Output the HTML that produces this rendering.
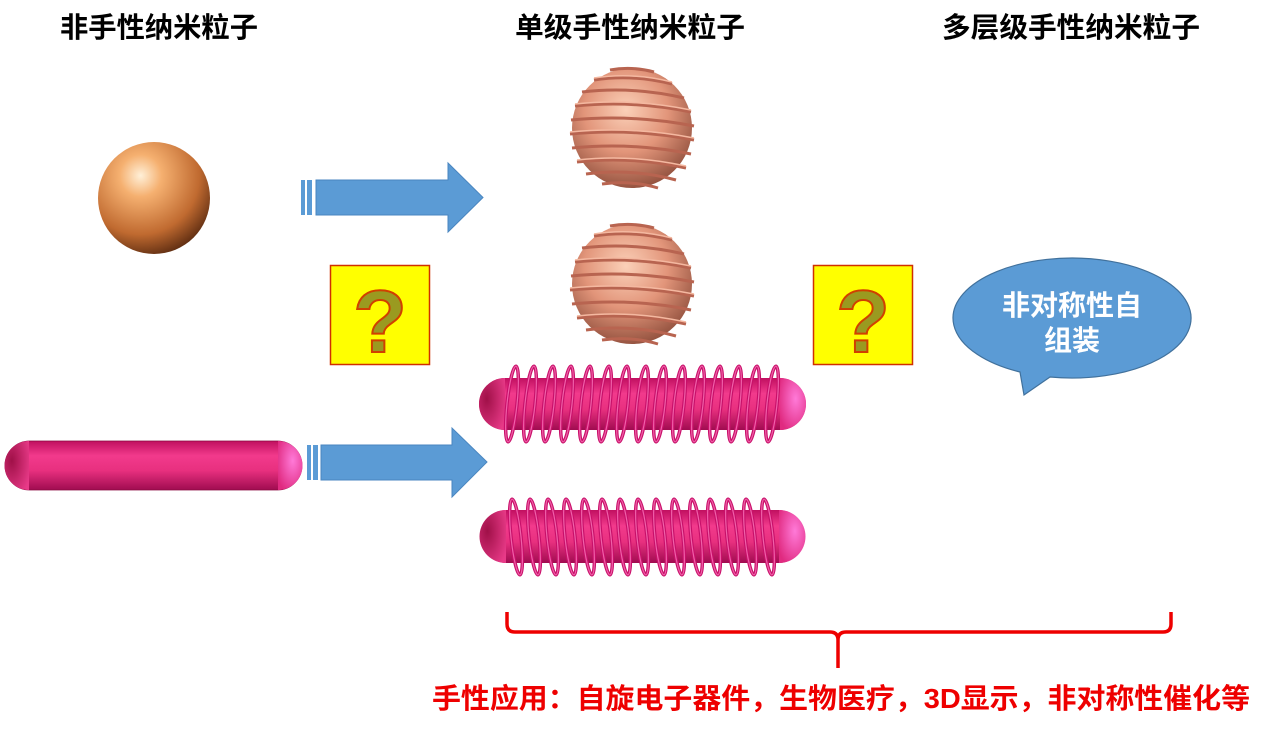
<!DOCTYPE html>
<html><head><meta charset="utf-8"><style>
html,body{margin:0;padding:0;background:#fff;}
svg{display:block;}
text{font-family:"Liberation Sans","Noto Sans CJK SC",sans-serif;font-weight:bold;}
</style></head><body>
<svg width="1269" height="732" viewBox="0 0 1269 732" xmlns="http://www.w3.org/2000/svg">
<defs>
<radialGradient id="gold" cx="0.38" cy="0.3" r="0.75">
<stop offset="0" stop-color="#fff0d8"/><stop offset="0.25" stop-color="#f5b070"/><stop offset="0.7" stop-color="#c06a30"/><stop offset="1" stop-color="#5a2a10"/></radialGradient>
<radialGradient id="salmon" cx="0.45" cy="0.35" r="0.7">
<stop offset="0" stop-color="#fbd0b8"/><stop offset="0.5" stop-color="#e2957a"/><stop offset="1" stop-color="#8a4a38"/></radialGradient>
<linearGradient id="rod" x1="0" y1="0" x2="0" y2="1">
<stop offset="0" stop-color="#c01060"/><stop offset="0.3" stop-color="#f23a8c"/><stop offset="0.6" stop-color="#e8307f"/><stop offset="1" stop-color="#a00c50"/></linearGradient>
<radialGradient id="capL" cx="0.3" cy="0.4" r="0.8">
<stop offset="0" stop-color="#a01048"/><stop offset="1" stop-color="#e83a88"/></radialGradient>
<radialGradient id="capR" cx="0.6" cy="0.4" r="0.7">
<stop offset="0" stop-color="#ff7ad8"/><stop offset="1" stop-color="#e02a80"/></radialGradient>
<g id="coilA"><ellipse cx="0" cy="0" rx="5" ry="38" fill="none" stroke="#c8106a" stroke-width="3.5" transform="rotate(6)"/><ellipse cx="0" cy="0" rx="5" ry="38" fill="none" stroke="#f060a8" stroke-width="1.2" transform="rotate(6)"/></g>
<g id="coilB"><ellipse cx="0" cy="0" rx="5" ry="38" fill="none" stroke="#c8106a" stroke-width="3.5" transform="rotate(-6)"/><ellipse cx="0" cy="0" rx="5" ry="38" fill="none" stroke="#f060a8" stroke-width="1.2" transform="rotate(-6)"/></g>
<g id="hsph">
<circle cx="0" cy="0" r="60" fill="url(#salmon)"/>
<g fill="none" stroke="#b86450" stroke-width="3">
<path d="M-22,-58 Q0,-62 22,-56"/><path d="M-38,-48 Q0,-54 40,-44"/><path d="M-50,-36 Q0,-42 52,-30"/><path d="M-57,-22 Q0,-28 59,-16"/><path d="M-61,-8 Q0,-14 62,-2"/><path d="M-62,6 Q0,0 62,12"/><path d="M-60,20 Q0,14 59,26"/><path d="M-55,34 Q0,28 54,40"/><path d="M-46,46 Q0,40 44,52"/><path d="M-30,56 Q0,52 26,60"/>
</g>
<g fill="none" stroke="#f4b8a0" stroke-width="1.5">
<path d="M-38,-50 Q0,-56 40,-46"/><path d="M-57,-24 Q0,-30 59,-18"/><path d="M-62,4 Q0,-2 62,10"/><path d="M-55,32 Q0,26 54,38"/>
</g>
</g>
</defs>

<text x="159" y="37" font-size="28" text-anchor="middle" fill="#000" textLength="198" lengthAdjust="spacingAndGlyphs">非手性纳米粒子</text>
<text x="630" y="37" font-size="28" text-anchor="middle" fill="#000" textLength="230" lengthAdjust="spacingAndGlyphs">单级手性纳米粒子</text>
<text x="1071" y="37" font-size="28" text-anchor="middle" fill="#000" textLength="258" lengthAdjust="spacingAndGlyphs">多层级手性纳米粒子</text>

<circle cx="154" cy="198" r="56" fill="url(#gold)"/>

<path d="M316,180 H448 V163 L483,197.5 L448,232 V215 H316 Z" fill="#5b9bd5" stroke="#4a86c0" stroke-width="1"/>
<rect x="301" y="180" width="4" height="35" fill="#5b9bd5"/><rect x="307" y="180" width="5" height="35" fill="#5b9bd5"/>
<path d="M321,445 H452 V428 L487,462 L452,497 V480 H321 Z" fill="#5b9bd5" stroke="#4a86c0" stroke-width="1"/>
<rect x="307" y="445" width="4" height="35" fill="#5b9bd5"/><rect x="313" y="445" width="5" height="35" fill="#5b9bd5"/>

<use href="#hsph" x="632" y="128"/>
<use href="#hsph" x="632" y="284"/>

<rect x="330.5" y="265.5" width="99" height="99" fill="#ffff00" stroke="#d03000" stroke-width="1.5"/>
<text x="380" y="352" font-size="88" text-anchor="middle" fill="#9a9a20" stroke="#d04000" stroke-width="2" font-weight="normal">?</text>
<rect x="813.5" y="265.5" width="99" height="99" fill="#ffff00" stroke="#d03000" stroke-width="1.5"/>
<text x="863" y="352" font-size="88" text-anchor="middle" fill="#9a9a20" stroke="#d04000" stroke-width="2" font-weight="normal">?</text>

<rect x="5" y="441" width="297" height="49" rx="24.5" fill="url(#rod)" stroke="#8a0a40" stroke-width="0.8"/>
<path d="M29,441 A24.5,24.5 0 0 0 29,490 Z" fill="url(#capL)"/>
<path d="M278,441 A24.5,24.5 0 0 1 278,490 Z" fill="url(#capR)"/>

<rect x="479" y="378" width="327" height="52" rx="26" fill="url(#rod)"/>
<path d="M505,378 A26,26 0 0 0 505,430 Z" fill="url(#capL)"/>
<path d="M780,378 A26,26 0 0 1 780,430 Z" fill="url(#capR)"/>
<g>
<use href="#coilA" x="512" y="404"/><use href="#coilA" x="530" y="404"/><use href="#coilA" x="549" y="404"/><use href="#coilA" x="567" y="404"/><use href="#coilA" x="586" y="404"/><use href="#coilA" x="605" y="404"/><use href="#coilA" x="623" y="404"/><use href="#coilA" x="642" y="404"/><use href="#coilA" x="660" y="404"/><use href="#coilA" x="679" y="404"/><use href="#coilA" x="698" y="404"/><use href="#coilA" x="716" y="404"/><use href="#coilA" x="735" y="404"/><use href="#coilA" x="753" y="404"/><use href="#coilA" x="772" y="404"/>
</g>
<rect x="480" y="510" width="325" height="53" rx="26.5" fill="url(#rod)"/>
<path d="M506,510 A26.5,26.5 0 0 0 506,563 Z" fill="url(#capL)"/>
<path d="M779,510 A26.5,26.5 0 0 1 779,563 Z" fill="url(#capR)"/>
<g>
<use href="#coilB" x="516" y="537"/><use href="#coilB" x="534" y="537"/><use href="#coilB" x="552" y="537"/><use href="#coilB" x="570" y="537"/><use href="#coilB" x="588" y="537"/><use href="#coilB" x="606" y="537"/><use href="#coilB" x="624" y="537"/><use href="#coilB" x="642" y="537"/><use href="#coilB" x="660" y="537"/><use href="#coilB" x="678" y="537"/><use href="#coilB" x="696" y="537"/><use href="#coilB" x="714" y="537"/><use href="#coilB" x="732" y="537"/><use href="#coilB" x="750" y="537"/><use href="#coilB" x="768" y="537"/>
</g>

<path d="M1020,372 A119,60 0 1 1 1050,377 L1024,395 Z" fill="#5b9bd5" stroke="#41719c" stroke-width="1.2"/>
<text x="1072" y="315" font-size="28" text-anchor="middle" fill="#fff">非对称性自</text>
<text x="1072" y="350" font-size="28" text-anchor="middle" fill="#fff">组装</text>

<path d="M507,612 V624 Q507,632 515,632 H830 Q838,632 838,640 V668 M838,640 Q838,632 846,632 H1163 Q1171,632 1171,624 V612" fill="none" stroke="#ee0000" stroke-width="3.5"/>
<text x="841" y="708" font-size="28" text-anchor="middle" fill="#ee0000" textLength="818" lengthAdjust="spacingAndGlyphs">手性应用：自旋电子器件，生物医疗，3D显示，非对称性催化等</text>
</svg>
</body></html>
